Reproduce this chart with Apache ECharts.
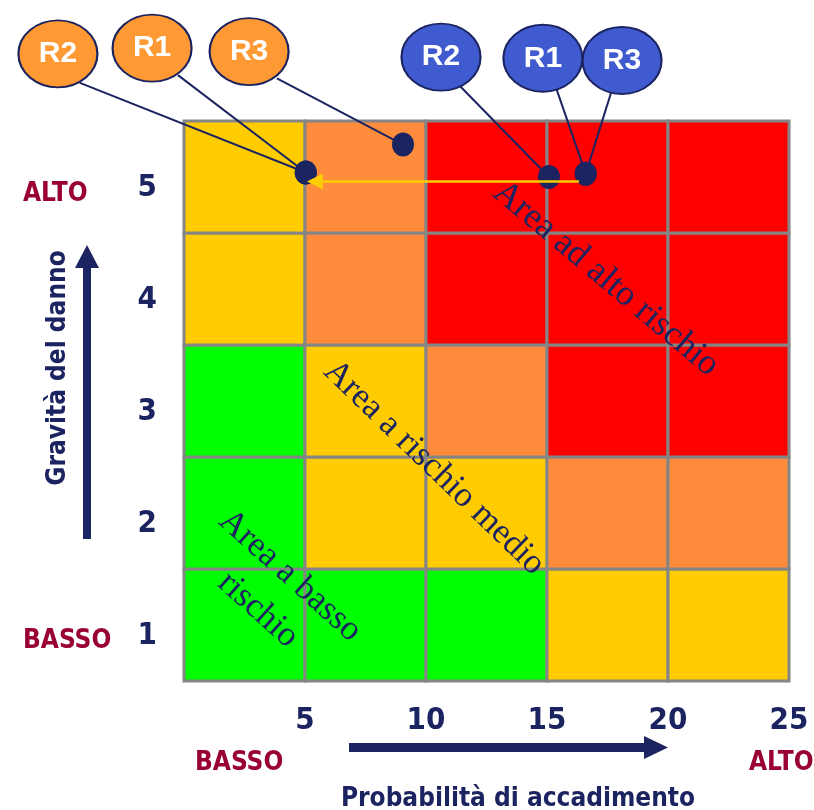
<!DOCTYPE html>
<html>
<head>
<meta charset="utf-8">
<script src="https://cdn.jsdelivr.net/npm/echarts@6/dist/echarts.min.js"></script>
<style>
  html, body { margin: 0; padding: 0; background: #ffffff; }
  #chart { width: 814px; height: 810px; }
</style>
</head>
<body>
<div id="chart"></div>
<script>
// Matrice di rischio: probabilità di accadimento (x) × gravità del danno (y)
const probabilityTicks = [5, 10, 15, 20, 25];
const gravityLabels = ['1', '2', '3', '4', '5'];

// Livello di rischio di ogni cella: righe = gravità 1..5 (dal basso), colonne = fasce di probabilità
// 0 basso, 1 medio, 2 medio-alto, 3 alto
const riskLevels = [
  [0, 0, 0, 1, 1],
  [0, 1, 1, 2, 2],
  [0, 1, 2, 3, 3],
  [1, 2, 3, 3, 3],
  [1, 2, 3, 3, 3]
];

const riskNames = ['R1', 'R2', 'R3'];
// Rischi prima degli interventi
const probBefore = [16.6, 15.08, 16.6];
const gravBefore = [4.53, 4.5, 4.53];
// Rischi dopo gli interventi
const probAfter = [5.03, 5.03, 9.05];
const gravAfter = [4.54, 4.54, 4.79];
// Spostamento indicato dalla freccia gialla
const shiftFrom = [16.32, 4.46];
const shiftTo = [5.41, 4.46];

// ---- aspetto ----
const levelColors = ['#00FF00', '#FFCC00', '#FF8C3C', '#FF0000'];
const NAVY = '#1B2460';
const WINE = '#990033';
const SANS = '"DejaVu Sans Condensed", "DejaVu Sans", sans-serif';
const SERIF = '"Liberation Serif", "Times New Roman", serif';

// Posizione delle etichette a fumetto e punto d'uscita dei richiami (in unità degli assi)
const tagAnchorsBefore = [[14.83, 5.56], [10.62, 5.57], [18.1, 5.54]];
const tagAnchorsAfter = [[-1.32, 5.65], [-5.21, 5.6], [2.69, 5.62]];
const leaderStartBefore = [[15.29, 5.35], [11.32, 5.33], [17.73, 5.31]];
const leaderStartAfter = [[-0.25, 5.41], [-4.3, 5.34], [3.84, 5.38]];

const bandWidth = probabilityTicks[1] - probabilityTicks[0];

const cellData = [];
riskLevels.forEach((row, r) => row.forEach((lvl, c) => cellData.push([c, r, lvl])));

const leaderData = [];
riskNames.forEach((n, i) => {
  leaderData.push({ coords: [leaderStartAfter[i], [probAfter[i], gravAfter[i]]] });
  leaderData.push({ coords: [leaderStartBefore[i], [probBefore[i], gravBefore[i]]] });
});

const dotData = [];
riskNames.forEach((n, i) => {
  dotData.push([probBefore[i], gravBefore[i]]);
  dotData.push([probAfter[i], gravAfter[i]]);
});

function tagSeries(anchors, color) {
  return {
    type: 'scatter',
    xAxisIndex: 0, yAxisIndex: 0,
    clip: false,
    z: 6,
    symbol: 'circle',
    symbolSize: [79, 67],
    itemStyle: { color: color, borderColor: NAVY, borderWidth: 2, opacity: 1 },
    label: {
      show: true, position: 'inside',
      formatter: p => p.name,
      color: '#ffffff',
      fontFamily: '"Liberation Sans", Arial, sans-serif',
      fontWeight: 'bold', fontSize: 30
    },
    emphasis: { disabled: true },
    data: anchors.map((a, i) => ({ name: riskNames[i], value: a }))
  };
}

const chart = echarts.init(document.getElementById('chart'), null, { renderer: 'canvas' });

const textStyle = (text, font, fill, align) => ({
  text: text, font: font, fill: fill,
  align: align, verticalAlign: 'middle', textAlign: align, textVerticalAlign: 'middle'
});

const option = {
  animation: false,
  backgroundColor: '#ffffff',
  grid: { left: 184, right: 25, top: 121, bottom: 129, containLabel: false },
  xAxis: [{
    type: 'value', min: 0, max: 25, interval: bandWidth,
    axisLine: { show: false }, axisTick: { show: false }, splitLine: { show: false },
    axisLabel: {
      formatter: v => (probabilityTicks.indexOf(v) >= 0 ? String(v) : ''),
      margin: 24, color: NAVY, fontFamily: SANS, fontWeight: 'bold', fontSize: 31
    }
  }],
  yAxis: [{
    type: 'value', min: 0, max: 5, interval: 1, show: false
  }, {
    type: 'category', position: 'left', data: gravityLabels,
    axisLine: { show: false }, axisTick: { show: false }, splitLine: { show: false },
    axisLabel: {
      margin: 27, verticalAlign: 'top', lineHeight: 22,
      color: NAVY, fontFamily: SANS, fontWeight: 'bold', fontSize: 31
    }
  }],
  series: [
    {
      type: 'custom',
      xAxisIndex: 0, yAxisIndex: 0,
      z: 1,
      silent: true,
      data: cellData,
      renderItem: (params, api) => {
        const c = api.value(0), r = api.value(1);
        const p0 = api.coord([c * bandWidth, r + 1]);
        const p1 = api.coord([(c + 1) * bandWidth, r]);
        return {
          type: 'rect',
          shape: { x: p0[0], y: p0[1], width: p1[0] - p0[0], height: p1[1] - p0[1] },
          style: { fill: levelColors[api.value(2)], stroke: '#858585', lineWidth: 3 }
        };
      }
    },
    {
      type: 'lines',
      coordinateSystem: 'cartesian2d',
      xAxisIndex: 0, yAxisIndex: 0,
      clip: false,
      z: 3,
      silent: true,
      symbol: 'none',
      lineStyle: { color: NAVY, width: 2, opacity: 1, curveness: 0 },
      data: leaderData
    },
    {
      type: 'scatter',
      xAxisIndex: 0, yAxisIndex: 0,
      z: 4,
      symbol: 'circle',
      symbolSize: [22, 24],
      itemStyle: { color: NAVY, opacity: 1 },
      emphasis: { disabled: true },
      data: dotData
    },
    {
      type: 'lines',
      coordinateSystem: 'cartesian2d',
      xAxisIndex: 0, yAxisIndex: 0,
      clip: false,
      z: 5,
      silent: true,
      symbol: ['none', 'triangle'],
      symbolSize: [15, 16],
      lineStyle: { color: '#FFCC00', width: 2.5, opacity: 1 },
      data: [{ coords: [shiftFrom, shiftTo] }]
    },
    tagSeries(tagAnchorsAfter, '#FF9933'),
    tagSeries(tagAnchorsBefore, '#405BD0')
  ],
  graphic: [
    // estremi della scala di gravità
    { type: 'text', x: 23, y: 194, z: 10, style: textStyle('ALTO', 'bold 26px ' + SANS, WINE, 'left') },
    { type: 'text', x: 23, y: 641, z: 10, style: textStyle('BASSO', 'bold 26px ' + SANS, WINE, 'left') },
    // estremi della scala di probabilità
    { type: 'text', x: 195, y: 763, z: 10, style: textStyle('BASSO', 'bold 26px ' + SANS, WINE, 'left') },
    { type: 'text', x: 749, y: 763, z: 10, style: textStyle('ALTO', 'bold 26px ' + SANS, WINE, 'left') },
    // titoli degli assi
    { type: 'text', x: 58, y: 368, rotation: Math.PI / 2, z: 10,
      style: textStyle('Gravità del danno', 'bold 26px ' + SANS, NAVY, 'center') },
    { type: 'text', x: 518, y: 799, z: 10,
      style: textStyle('Probabilità di accadimento', 'bold 26px ' + SANS, NAVY, 'center') },
    // frecce degli assi
    { type: 'polygon', z: 10,
      shape: { points: [[83, 539], [91, 539], [91, 268], [99, 268], [87, 245], [75, 268], [83, 268]] },
      style: { fill: NAVY } },
    { type: 'polygon', z: 10,
      shape: { points: [[349, 743], [644, 743], [644, 736], [668, 747.5], [644, 759], [644, 752], [349, 752]] },
      style: { fill: NAVY } },
    // aree di rischio
    { type: 'text', x: 606, y: 279, rotation: -40 * Math.PI / 180, z: 10,
      style: textStyle('Area ad alto rischio', '36px ' + SERIF, NAVY, 'center') },
    { type: 'text', x: 434, y: 468, rotation: -44 * Math.PI / 180, z: 10,
      style: textStyle('Area a rischio medio', '35px ' + SERIF, NAVY, 'center') },
    { type: 'text', x: 290, y: 576, rotation: -42 * Math.PI / 180, z: 10,
      style: textStyle('Area a basso', '35px ' + SERIF, NAVY, 'center') },
    { type: 'text', x: 258, y: 610, rotation: -42 * Math.PI / 180, z: 10,
      style: textStyle('rischio', '35px ' + SERIF, NAVY, 'center') }
  ]
};

chart.setOption(option);
</script>
</body>
</html>
